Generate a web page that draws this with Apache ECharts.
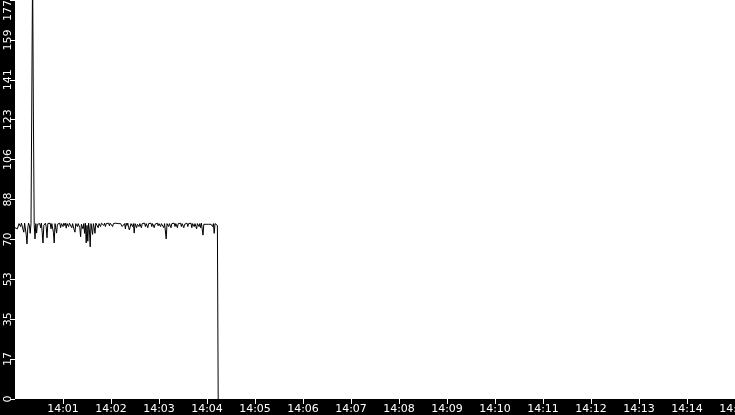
<!DOCTYPE html>
<html><head><meta charset="utf-8">
<script src="https://cdn.jsdelivr.net/npm/echarts@6/dist/echarts.min.js"></script>
<style>html,body{margin:0;padding:0;background:#000}#c{width:735px;height:415px}</style>
</head><body><div id="c"></div>
<script>
// Sampling: one reading per second starting at 14:00:00
const startTime = Date.UTC(2024, 0, 1, 14, 0, 0);
const endTime = Date.UTC(2024, 0, 1, 14, 15, 0);
const stepMs = 1000;
const yTicks = [0, 17, 35, 53, 70, 88, 106, 123, 141, 159, 177];
const values = [
  76, 75.8, 76, 75.5, 76.2, 77.8, 78, 76.5, 78, 77.6,
  77.8, 74, 78, 77.5, 73, 68.8, 76, 78, 77, 73.5,
  77.8, 78, 190, 126, 77.5, 71, 77.8, 73.6, 77.5, 78,
  77, 77.8, 76, 78, 74, 69.2, 77, 77.8, 78, 76.5,
  71.5, 77.8, 78, 77, 78, 75.5, 77.8, 78, 74, 69.2,
  77.8, 78, 73.6, 77.5, 78, 77, 78, 76, 77.8, 78,
  76.5, 78, 77, 78, 75.8, 77.8, 78, 76.5, 78, 77.5,
  78, 76, 77.8, 78, 75, 74, 77.8, 78, 76.5, 77.8,
  78, 76, 72, 77.5, 78, 75.5, 77.8, 73.5, 78, 69.2,
  77, 70, 78, 75, 67.5, 77.8, 78, 73, 77.8, 76,
  73.5, 78, 77.5, 78, 76, 77.8, 78, 76.5, 78, 77.8,
  78, 77, 78, 76.5, 77.8, 78, 77, 78, 76.8, 78,
  77.5, 78, 76.5, 77.8, 78, 77.5, 78, 77.8, 77.8, 77.8,
  77.8, 77.8, 77.8, 77.8, 76.5, 77, 76, 77.8, 75.5, 78,
  77, 78, 76, 75, 74.5, 77.8, 78, 76.5, 77.8, 73.6,
  77.8, 78, 76, 77.5, 78, 76.5, 77.8, 78, 76, 77.8,
  78, 77, 78, 76.5, 77.8, 78, 76, 77.8, 78, 77,
  78, 76.5, 77.8, 78, 76, 77.5, 78, 77, 78, 76.8,
  77.8, 78, 76.5, 77.8, 78, 77, 76, 77.8, 78, 71,
  77.8, 78, 76.5, 77.8, 78, 76, 77.8, 78, 77, 78,
  76.5, 77.8, 78, 76, 77.8, 78, 77, 78, 76.5, 77.8,
  78, 76, 77.5, 78, 77, 78, 76.5, 77.8, 78, 77,
  78, 76, 77.8, 78, 76.5, 77.8, 78, 75.5, 77.8, 78,
  76.5, 77.8, 76, 78, 77.5, 72.7, 77.5, 77.5, 77.5, 77.5,
  77.5, 77.5, 77.5, 77.5, 77.5, 77.5, 77.5, 76.5, 77.8, 73.5,
  77.8, 77.5, 77.8, 77, 0
];
const times = values.map((v, i) => startTime + i * stepMs);

const pad = n => (n < 10 ? '0' : '') + n;
const chart = echarts.init(document.getElementById('c'));
chart.setOption({
  backgroundColor: '#000',
  animation: false,
  textStyle: { fontFamily: 'DejaVu Sans' },
  grid: { left: 15, right: 0, top: 0, bottom: 16, show: true, backgroundColor: '#fff', borderWidth: 0, containLabel: false, outerBoundsMode: 'none' },
  xAxis: {
    type: 'value', min: startTime, max: endTime, interval: 60000,
    axisLine: { show: false },
    axisTick: { show: true, length: 5, lineStyle: { color: '#fff', width: 1 } },
    splitLine: { show: false },
    axisLabel: {
      color: '#fff', fontSize: 11, margin: 5, showMinLabel: false, showMaxLabel: true, hideOverlap: false,
      fontFamily: 'DejaVu Sans',
      formatter: v => { const d = new Date(v); return pad(d.getUTCHours()) + ':' + pad(d.getUTCMinutes()); }
    }
  },
  yAxis: {
    type: 'value', min: 0, max: 177, interval: 17.7,
    axisLine: { show: false },
    axisTick: { show: true, length: 5, lineStyle: { color: '#fff', width: 1 } },
    splitLine: { show: false },
    axisLabel: {
      color: '#fff', fontSize: 11, margin: 1, rotate: 90, hideOverlap: false,
      fontFamily: 'DejaVu Sans', alignMaxLabel: 'right',
      formatter: v => String(yTicks[Math.round(v / 17.7)])
    }
  },
  series: [{
    type: 'line', symbol: 'none', showSymbol: false, clip: true,
    lineStyle: { color: '#000', width: 1 },
    data: times.map((t, i) => [t, values[i]])
  }]
});
</script></body></html>
